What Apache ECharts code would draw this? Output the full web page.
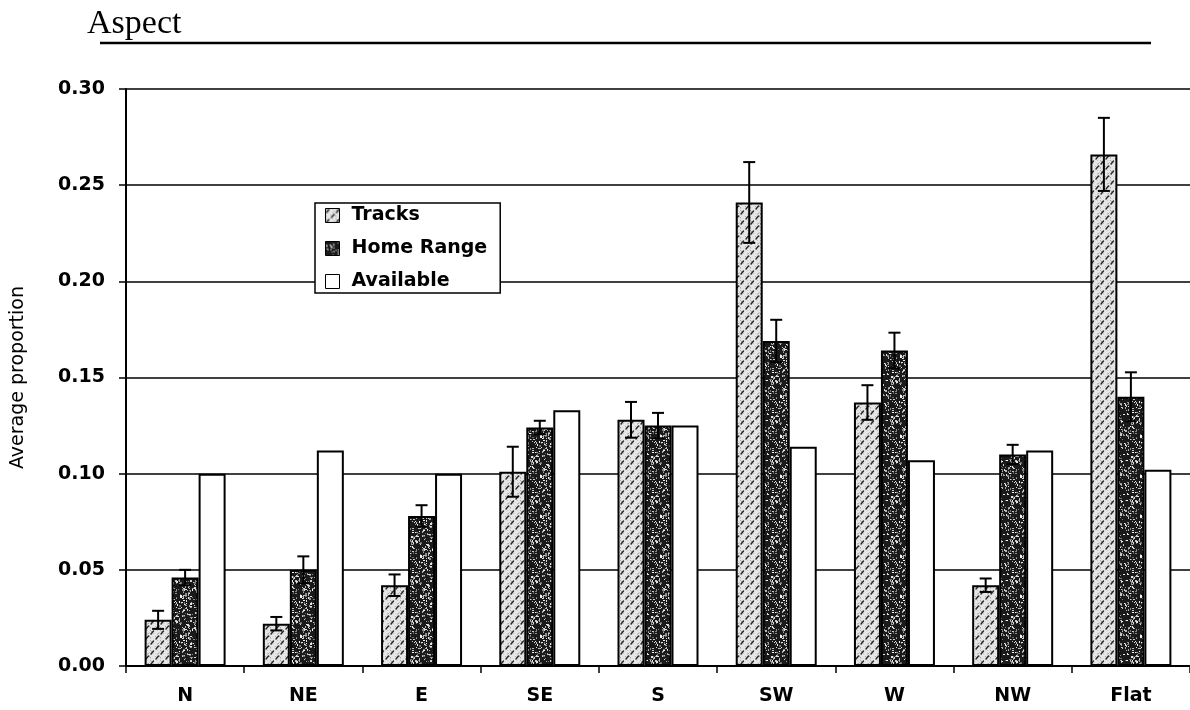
<!DOCTYPE html>
<html>
<head>
<meta charset="utf-8">
<title>Aspect</title>
<script src="https://cdn.jsdelivr.net/npm/echarts@6/dist/echarts.min.js"></script>
<style>
  html, body { margin: 0; padding: 0; background: #ffffff; }
  #chart { width: 1190px; height: 710px; }
</style>
</head>
<body>
<div id="chart"></div>
<script>
// Aspect categories and average proportions (mean ± SE)
const categories = ['N', 'NE', 'E', 'SE', 'S', 'SW', 'W', 'NW', 'Flat'];
const tracks       = [0.024, 0.022, 0.042, 0.101, 0.128, 0.241, 0.137, 0.042, 0.266];
const tracksErr    = [0.0047, 0.0035, 0.0056, 0.013, 0.0093, 0.021, 0.009, 0.0035, 0.019];
const homeRange    = [0.046, 0.050, 0.078, 0.124, 0.125, 0.169, 0.164, 0.110, 0.140];
const homeRangeErr = [0.004, 0.007, 0.0056, 0.0035, 0.0066, 0.011, 0.0093, 0.005, 0.0127];
const available    = [0.100, 0.112, 0.100, 0.133, 0.125, 0.114, 0.107, 0.112, 0.102];
const seriesNames  = ['Tracks', 'Home Range', 'Available'];

const FONT = '"DejaVu Sans", "Liberation Sans", Arial, sans-serif';
const BAR_W = 27;

// Small deterministic generator for texture speckle
function lcg(seed) {
  let s = seed >>> 0;
  return function () {
    s = (Math.imul(s, 1664525) + 1013904223) >>> 0;
    return s / 4294967296;
  };
}

// Light fill with short diagonal hatch strokes
function hatchTexture() {
  const c = document.createElement('canvas');
  c.width = 10; c.height = 10;
  const g = c.getContext('2d');
  g.fillStyle = '#e6e6e6';
  g.fillRect(0, 0, 10, 10);
  const rnd = lcg(7);
  for (let k = 0; k < 16; k++) {
    g.fillStyle = rnd() < 0.5 ? '#a8a8a8' : '#c8c8c8';
    g.fillRect(Math.floor(rnd() * 10), Math.floor(rnd() * 10), 1, 1);
  }
  g.strokeStyle = '#262626';
  g.lineWidth = 1.4;
  g.lineCap = 'round';
  const dashes = [[1, 4, 3.5, 1], [6, 9, 8.5, 6]];
  dashes.forEach(d => {
    g.beginPath(); g.moveTo(d[0], d[1]); g.lineTo(d[2], d[3]); g.stroke();
  });
  return c;
}

// Dark fill with light speckle
function speckleTexture() {
  const c = document.createElement('canvas');
  c.width = 40; c.height = 40;
  const g = c.getContext('2d');
  g.fillStyle = '#1a1a1a';
  g.fillRect(0, 0, 40, 40);
  const rnd = lcg(12345);
  for (let k = 0; k < 260; k++) {
    const v = 100 + Math.floor(rnd() * 150);
    g.fillStyle = 'rgb(' + v + ',' + v + ',' + v + ')';
    const w = rnd() < 0.35 ? 2 : 1;
    const h = rnd() < 0.35 ? 2 : 1;
    g.fillRect(Math.floor(rnd() * 40), Math.floor(rnd() * 40), w, h);
  }
  return c;
}

const hatchFill = { image: hatchTexture(), repeat: 'repeat' };
const speckleFill = { image: speckleTexture(), repeat: 'repeat' };

// I-shaped error bars centred on a bar of the group
function errorBars(values, errs, offset) {
  return {
    type: 'custom',
    silent: true,
    z: 5,
    encode: { x: 0, y: 1 },
    data: values.map((v, i) => [i, v, errs[i]]),
    renderItem: function (params, api) {
      const i = api.value(0), v = api.value(1), e = api.value(2);
      const top = api.coord([i, v + e]);
      const bot = api.coord([i, v - e]);
      const x = top[0] + offset;
      const cap = 6;
      const st = { stroke: '#000', lineWidth: 2 };
      return {
        type: 'group',
        children: [
          { type: 'line', shape: { x1: x, y1: top[1], x2: x, y2: bot[1] }, style: st },
          { type: 'line', shape: { x1: x - cap, y1: top[1], x2: x + cap, y2: top[1] }, style: st },
          { type: 'line', shape: { x1: x - cap, y1: bot[1], x2: x + cap, y2: bot[1] }, style: st }
        ]
      };
    }
  };
}

const chart = echarts.init(document.getElementById('chart'), null, { renderer: 'canvas' });

chart.setOption({
  backgroundColor: '#ffffff',
  animation: false,
  grid: { left: 126, top: 89, width: 1070, height: 577, containLabel: false },
  graphic: [
    {
      type: 'text', left: 87, top: 7, z: 10,
      style: { text: 'Aspect', font: '34px "Liberation Serif", "Times New Roman", serif', fill: '#000' }
    },
    {
      type: 'line', z: 10,
      shape: { x1: 100, y1: 43, x2: 1151, y2: 43 },
      style: { stroke: '#000', lineWidth: 2.5 }
    }
  ],
  legend: {
    orient: 'vertical',
    left: 315, top: 203,
    data: seriesNames,
    backgroundColor: '#ffffff',
    borderColor: '#000',
    borderWidth: 1.5,
    borderRadius: 0,
    padding: [3, 13, 2, 10],
    itemGap: 14,
    itemWidth: 14, itemHeight: 14,
    icon: 'rect',
    itemStyle: { borderColor: '#000', borderWidth: 1 },
    textStyle: { fontFamily: FONT, fontSize: 19, fontWeight: 'bold', color: '#000', padding: [0, 0, 0, 7], lineHeight: 18 }
  },
  xAxis: {
    type: 'category',
    data: categories,
    axisLine: { lineStyle: { color: '#000', width: 2 } },
    axisTick: { show: true, length: 7, lineStyle: { color: '#000', width: 1.5 } },
    axisLabel: { fontFamily: FONT, fontSize: 19, fontWeight: 'bold', color: '#000', margin: 21 },
    splitLine: { show: false }
  },
  yAxis: {
    type: 'value',
    min: 0, max: 0.3, interval: 0.05,
    name: 'Average proportion',
    nameLocation: 'middle',
    nameRotate: 90,
    nameGap: 98,
    nameTextStyle: { fontFamily: FONT, fontSize: 19, color: '#000' },
    axisLine: { show: true, lineStyle: { color: '#000', width: 2 } },
    axisTick: { show: true, length: 7, lineStyle: { color: '#000', width: 1.5 } },
    axisLabel: {
      fontFamily: FONT, fontSize: 19, fontWeight: 'bold', color: '#000', margin: 21,
      formatter: v => v.toFixed(2)
    },
    splitLine: { show: true, lineStyle: { color: '#000', width: 1.6 } }
  },
  series: [
    {
      name: 'Tracks', type: 'bar', data: tracks,
      barWidth: BAR_W, barGap: '0%',
      itemStyle: { color: hatchFill, borderColor: '#000', borderWidth: 2 }
    },
    {
      name: 'Home Range', type: 'bar', data: homeRange,
      barWidth: BAR_W, barGap: '0%',
      itemStyle: { color: speckleFill, borderColor: '#000', borderWidth: 2 }
    },
    {
      name: 'Available', type: 'bar', data: available,
      barWidth: BAR_W, barGap: '0%',
      itemStyle: { color: '#ffffff', borderColor: '#000', borderWidth: 2 }
    },
    errorBars(tracks, tracksErr, -BAR_W),
    errorBars(homeRange, homeRangeErr, 0)
  ]
});
</script>
</body>
</html>
